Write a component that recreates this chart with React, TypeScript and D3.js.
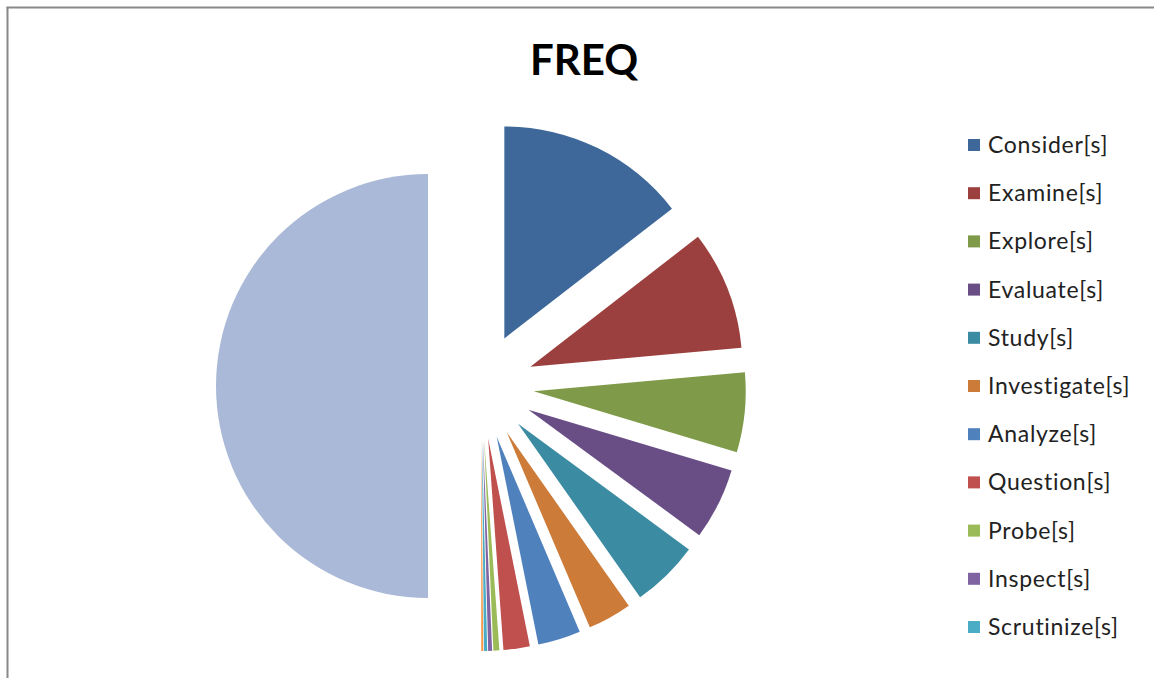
import React from "react";
import * as d3 from "d3";

const categories = [
  "Consider[s]", "Examine[s]", "Explore[s]", "Evaluate[s]", "Study[s]", "Investigate[s]",
  "Analyze[s]", "Question[s]", "Probe[s]", "Inspect[s]", "Scrutinize[s]", "", "Total",
];
const values = [290, 181, 121, 109, 103, 67, 65, 40, 9, 6, 5, 3, 999];
const colors = [
  "#3E6899", "#9B403E", "#7F9A48", "#694E86", "#3B8CA2", "#CC7B38",
  "#4F81BD", "#C0504D", "#9BBB59", "#8064A2", "#4BACC6", "#F79646", "#AAB9D7",
];
const legendCount = 11;

const W = 1154;
const H = 678;
const CX = 481;
const CY = 386;
const R = 212;
const EXPLODE = 53;

export default function App() {
  const pie = d3.pie<number>().sort(null).value((v) => v);
  const arcs = pie(values);
  const arcGen = d3.arc<d3.PieArcDatum<number>>().innerRadius(0).outerRadius(R);
  const font = "Lato, 'Open Sans', sans-serif";
  return (
    <svg width={W} height={H} style={{ position: "absolute", left: 0, top: 0 }}>
      <rect x={0} y={0} width={W} height={H} fill="#fff" />
      <line x1={7.5} y1={7} x2={7.5} y2={H} stroke="#888" strokeWidth={2} />
      <line x1={6.5} y1={7.5} x2={W} y2={7.5} stroke="#888" strokeWidth={2} />
      <text x={584} y={75} textAnchor="middle" fontFamily={font} fontWeight="bold" fontSize={42} fill="#000">
        FREQ
      </text>
      <g>
        {arcs.map((a, i) => {
          const mid = (a.startAngle + a.endAngle) / 2;
          const dx = EXPLODE * Math.sin(mid);
          const dy = -EXPLODE * Math.cos(mid);
          return (
            <path
              key={i}
              d={arcGen(a) || ""}
              fill={colors[i]}
              transform={`translate(${CX + dx},${CY + dy})`}
            />
          );
        })}
      </g>
      <g>
        {categories.slice(0, legendCount).map((c, i) => {
          const y = 145 + i * 48.2;
          return (
            <g key={c}>
              <rect x={968} y={y - 6} width={12} height={12} fill={colors[i]} />
              <text x={988} y={y} dy="0.35em" fontFamily={font} fontSize={23} letterSpacing={0.7} fill="#222">
                {c}
              </text>
            </g>
          );
        })}
      </g>
    </svg>
  );
}
